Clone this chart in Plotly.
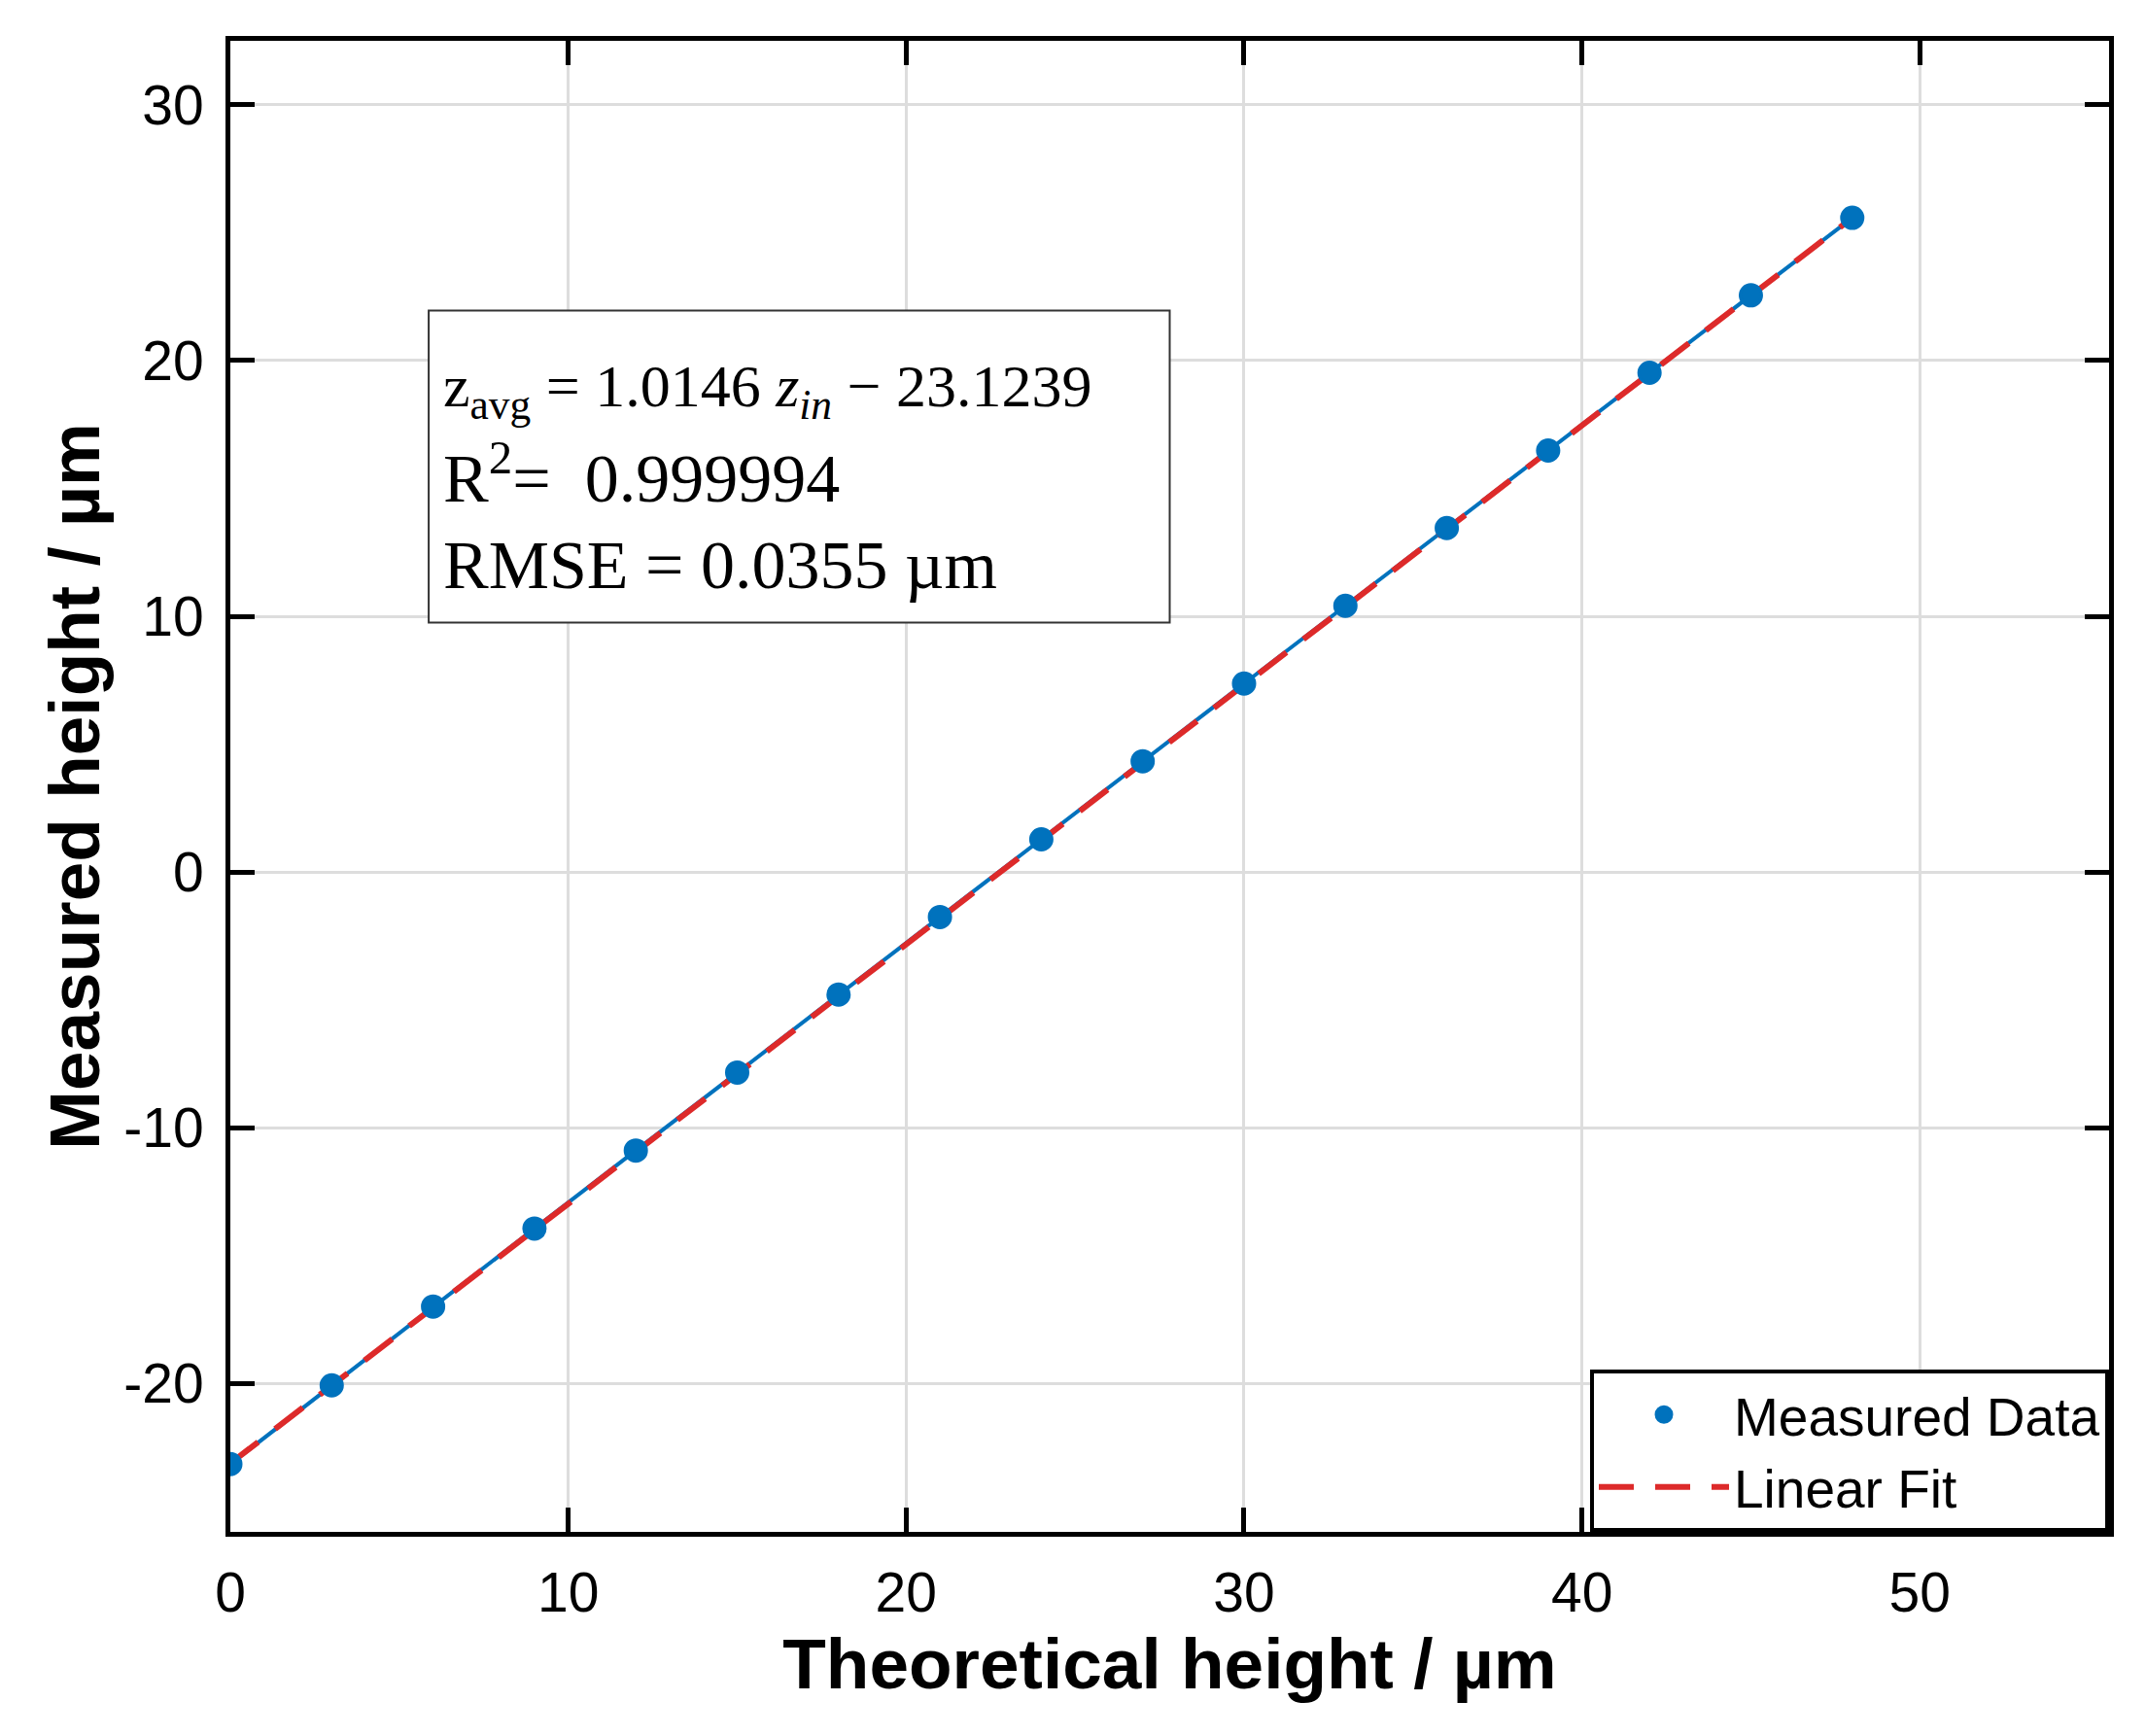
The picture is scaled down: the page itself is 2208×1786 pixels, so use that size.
import plotly.graph_objects as go

# theoretical heights (um) and measured heights
theoretical = [0, 3, 6, 9, 12, 15, 18, 21, 24, 27, 30, 33, 36, 39, 42, 45, 48]
measured = [-23.15, -20.07, -16.99, -13.94, -10.89, -7.84, -4.79, -1.76, 1.28,
            4.33, 7.37, 10.41, 13.45, 16.48, 19.52, 22.55, 25.58]

# end points of the linear fit
fit_x = [0, 48]
fit_y = [-23.12, 25.58]

x_ticks = [0, 10, 20, 30, 40, 50]
y_ticks = [-20, -10, 0, 10, 20, 30]
y_tick_text = ["-20", "-10", "0", "10", "20", "30"]

fit_lines = [
    "z<sub>avg</sub> = 1.0146 <i>z<sub>in</sub></i> \u2212 23.1239",
    "R<sup>2</sup>=  0.999994",
    "RMSE = 0.0355 \u00b5m",
]

blue = "#0072BD"
red = "#DD2A2A"
sans = "Liberation Sans"
serif = "Liberation Serif"

fig = go.Figure()
fig.add_trace(
    go.Scatter(
        x=theoretical,
        y=measured,
        mode="lines",
        line=dict(color=blue, width=4),
        showlegend=False,
        hoverinfo="skip"
    )
)
fig.add_trace(
    go.Scatter(
        x=fit_x,
        y=fit_y,
        mode="lines",
        name="Linear Fit",
        line=dict(color=red, width=6, dash="36px,22px"),
        legendrank=2
    )
)
fig.add_trace(
    go.Scatter(
        x=theoretical,
        y=measured,
        mode="markers",
        name="Measured Data",
        marker=dict(color=blue, size=22, line=dict(color=blue, width=3)),
        legendrank=1
    )
)

axis_style = dict(
    showline=True,
    linecolor="black",
    linewidth=5,
    mirror="allticks",
    ticks="inside",
    ticklen=25,
    tickwidth=5,
    tickcolor="black",
    showgrid=True,
    gridcolor="#DDDDDD",
    gridwidth=3,
    zeroline=False,
    tickfont=dict(family=sans, size=57, color="black"),
)

# text box with the fit result
fig.add_shape(
    type="rect",
    xref="x", yref="y",
    x0=5.87, x1=27.8, y0=9.75, y1=21.95,
    line=dict(color="#333333", width=2),
    fillcolor="white",
    layer="above"
)
for i, line_text in enumerate(fit_lines):
    fig.add_annotation(
        text=line_text,
        xref="x", yref="y",
        x=6.25, y=[18.85, 15.6, 12.0][i],
        xanchor="left", yanchor="middle",
        showarrow=False,
        font=dict(family=serif, size=[62, 70, 70][i], color="black")
    )

fig.update_layout(
    width=2208,
    height=1786,
    margin=dict(l=229, r=46, t=34, b=218),
    paper_bgcolor="white",
    plot_bgcolor="white",
    font=dict(family=sans, color="black"),
    xaxis=dict(
        range=[0, 55.6],
        tickvals=x_ticks,
        ticklabelstandoff=9,
        title=dict(text="<b>Theoretical height / \u00b5m</b>",
                   font=dict(family=sans, size=73), standoff=18),
        **axis_style
    ),
    yaxis=dict(
        range=[-25.8, 32.5],
        tickvals=y_ticks,
        ticktext=y_tick_text,
        ticklabelstandoff=11,
        title=dict(text="<b>Measured height / \u00b5m</b>",
                   font=dict(family=sans, size=73), standoff=2),
        **axis_style
    ),
    legend=dict(
        x=1, y=0,
        xanchor="right", yanchor="bottom",
        bgcolor="white",
        bordercolor="black",
        borderwidth=4,
        font=dict(family=sans, size=55),
        itemwidth=134,
        tracegroupgap=0
    )
)

fig.write_html("out.html")
